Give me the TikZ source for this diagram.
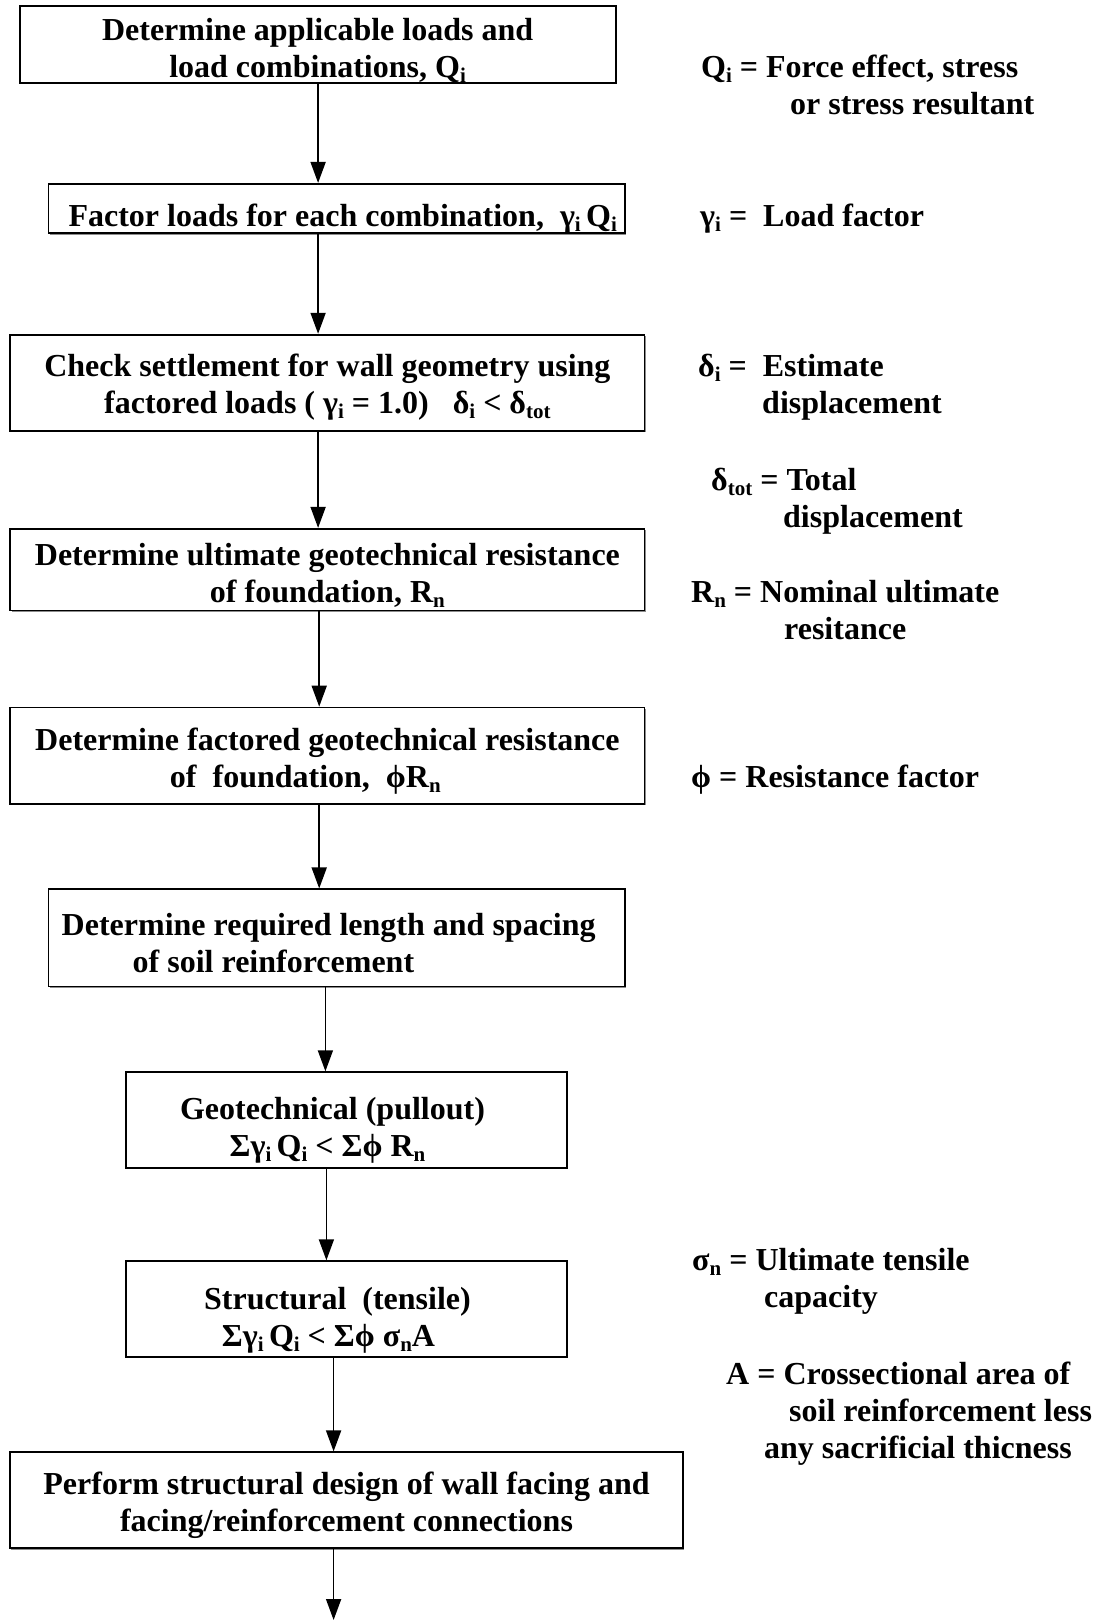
\documentclass[tikz,border=0pt]{standalone}
\usepackage{fontspec}
\setmainfont{Liberation Serif}
\usetikzlibrary{arrows.meta,shadows}
\newcommand\sbt[1]{\raisebox{-5pt}{\fontsize{21}{21}\selectfont #1}}
\newcommand\pushdn[1]{\rule{0pt}{#1pt}}
\begin{document}
\begin{tikzpicture}[x=1pt,y=1pt,
  every node/.style={font=\fontsize{32}{37}\selectfont\bfseries, inner sep=0pt},
  box/.style={draw, line width=1.8pt, align=center, fill=white,
    drop shadow={shadow xshift=1.2pt, shadow yshift=-1.2pt, fill=black!45, opacity=1}},
  lbl/.style={anchor=west, align=left},
  arr/.style={line width=1.7pt, -{Triangle[length=21pt,width=15pt]}}]
\useasboundingbox (0,0) rectangle (1100,-1620);
\fill[white] (0,0) rectangle (1100,-1620);
% boxes
\node[box, minimum width=596pt, minimum height=76.4pt] (b1) at (317.6,-44.4)
  {\pushdn{34}Determine applicable loads and\\load combinations, Q\sbt{i}};
\node[box, minimum width=576.4pt, minimum height=49.5pt] (b2) at (336.7,-208.6)
  {\pushdn{42}\hspace*{12pt}Factor loads for each combination,\ \ γ\sbt{i}\,Q\sbt{i}};
\node[box, minimum width=634.2pt, minimum height=96pt] (b3) at (327.4,-382.7)
  {\pushdn{32}Check settlement for wall geometry using\\factored loads ( γ\sbt{i} = 1.0)\ \ \ δ\sbt{i} < δ\sbt{tot}};
\node[box, minimum width=634.2pt, minimum height=81.6pt] (b4) at (327.4,-569.6)
  {\pushdn{34}Determine ultimate geotechnical resistance\\of foundation, R\sbt{n}};
\node[box, minimum width=634.2pt, minimum height=96.1pt] (b5) at (327.4,-755.6)
  {\pushdn{33}Determine factored geotechnical resistance\\of\ \ foundation,\ \ ϕR\sbt{n}\hspace*{44pt}};
\node[box, align=left, minimum width=576.4pt, minimum height=97.1pt] (b6) at (336.7,-937.9)
  {\pushdn{32}Determine required length and spacing\hspace*{16pt}\\\hspace*{71pt}of soil reinforcement};
\node[box, minimum width=441pt, minimum height=96pt] (b7) at (346.5,-1120.2)
  {\pushdn{42}Geotechnical (pullout)\hspace*{28pt}\\Σγ\sbt{i}\,Q\sbt{i} < Σϕ R\sbt{n}\hspace*{38pt}};
\node[box, minimum width=441pt, minimum height=96pt] (b8) at (346.5,-1309.2)
  {\pushdn{44}Structural\ \ (tensile)\hspace*{18pt}\\Σγ\sbt{i}\,Q\sbt{i} < Σϕ σ\sbt{n}A\hspace*{36pt}};
\node[box, minimum width=672.5pt, minimum height=96pt] (b9) at (346.5,-1500.3)
  {\pushdn{33}Perform structural design of wall facing and\\facing/reinforcement connections};
% right-hand labels
\node[lbl] (lq) at (701,-84.7) {Q\sbt{i} = Force effect, stress\\\hspace*{89pt}or stress resultant};
\node[lbl] (lg) at (700,-219) {γ\sbt{i} =\ \ Load factor};
\node[lbl] (ld) at (698,-387) {δ\sbt{i} =\ \ Estimate\\\hspace*{64pt}displacement};
\node[lbl] (lt) at (711,-501) {δ\sbt{tot} = Total\\\hspace*{72pt}displacement};
\node[lbl] (lr) at (691,-610) {R\sbt{n} = Nominal ultimate\\\hspace*{93pt}resitance};
\node[lbl] (lp) at (691,-780) {ϕ = Resistance factor};
\node[lbl] (ls) at (692,-1281) {σ\sbt{n} = Ultimate tensile\\\hspace*{72pt}capacity};
\node[lbl] (la) at (726,-1414) {A = Crossectional area of\\\hspace*{63pt}soil reinforcement less\\\hspace*{38pt}any sacrificial thicness};
% arrow columns
\coordinate (c1) at (318.1,0);
\coordinate (c4) at (319.2,0);
\coordinate (c6) at (325.4,0);
\coordinate (c7) at (326.4,0);
\coordinate (c8) at (333.6,0);
\coordinate (cend) at (333.6,-1620);
\draw[arr] (b1.south -| c1) -- (b2.north -| c1);
\draw[arr] (b2.south -| c1) -- (b3.north -| c1);
\draw[arr] (b3.south -| c1) -- (b4.north -| c1);
\draw[arr] (b4.south -| c4) -- (b5.north -| c4);
\draw[arr] (b5.south -| c4) -- (b6.north -| c4);
\draw[arr] (b6.south -| c6) -- (b7.north -| c6);
\draw[arr] (b7.south -| c7) -- (b8.north -| c7);
\draw[arr] (b8.south -| c8) -- (b9.north -| c8);
\draw[arr] (b9.south -| c8) -- (cend);
\end{tikzpicture}
\end{document}
